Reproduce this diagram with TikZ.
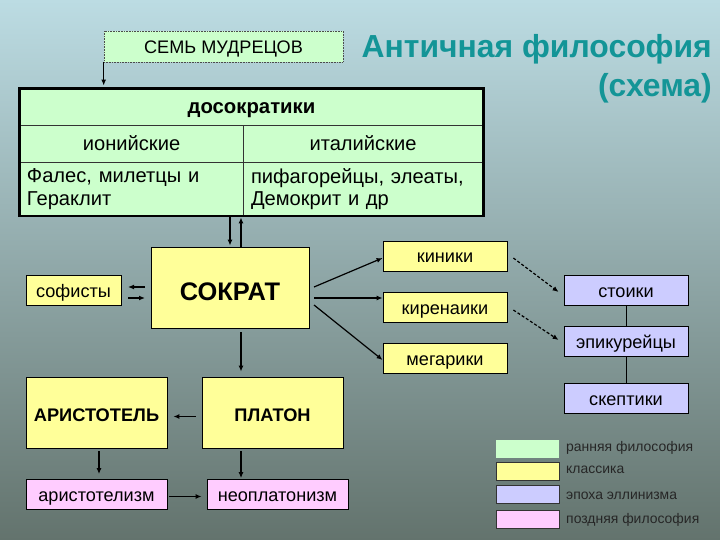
\documentclass[tikz,border=0pt]{standalone}
\usepackage{fontspec}
\setmainfont{Liberation Sans}
\usetikzlibrary{arrows.meta,calc}
\definecolor{early}{HTML}{CCFFCC}
\definecolor{classic}{HTML}{FFFF99}
\definecolor{hell}{HTML}{CCCCFF}
\definecolor{late}{HTML}{FFCCFF}
\definecolor{titlecol}{HTML}{139597}
\definecolor{bgtop}{HTML}{BCDCE3}
\definecolor{bgmid}{HTML}{8EA9AB}
\definecolor{bgbot}{HTML}{63736D}
\tikzset{
  box/.style={draw=black, line width=0.8bp, inner sep=0pt, rectangle,
    font=\fontsize{18.2}{21}\selectfont, text=black, text height=14bp, text depth=0bp},
  bigbox/.style={draw=black, line width=0.8bp, inner sep=0pt, rectangle, fill=classic,
    font=\bfseries\fontsize{18.3}{21}\selectfont, text=black, text height=18bp, text depth=0bp},
  cell/.style={draw=black!80, line width=0.8bp, inner sep=0pt, rectangle, fill=early,
    font=\fontsize{20.2}{22.5}\selectfont},
  arr/.style={line width=1.2bp, -{Latex[length=6bp,width=5bp]}},
  darr/.style={line width=1.2bp, dash pattern=on 3bp off 2bp, -{Latex[length=6bp,width=5bp]}},
  legsw/.style={draw=black!80, line width=0.8bp, minimum width=63bp, minimum height=18bp, inner sep=0pt},
  legtxt/.style={anchor=west, inner sep=0pt, font=\fontsize{14}{16}\selectfont, text=black!85}
}
\begin{document}
\begin{tikzpicture}[x=1bp,y=-1bp]
\useasboundingbox (0,0) rectangle (720,540);
\shade[top color=bgtop, middle color=bgmid, bottom color=bgbot] (0,0) rectangle (720,540);

% title
\node[anchor=east, inner sep=0pt, text=titlecol, font=\bfseries\fontsize{32}{36}\selectfont] (t1) at (712,49) {Античная философия};
\node[anchor=east, inner sep=0pt, text=titlecol, font=\bfseries\fontsize{32}{36}\selectfont] (t2) at (712,88) {(схема)};

% seven sages
\node[box, fill=early, draw=black!70, line width=0.6bp, densely dotted, minimum width=239bp, minimum height=31bp] (sem) at (223.5,46.5) {СЕМЬ МУДРЕЦОВ};

% table
\node[cell, minimum width=463bp, minimum height=36bp, font=\bfseries\fontsize{20.4}{23}\selectfont, text height=14bp, text depth=0bp] (dos) at (251.5,107) {досократики};
\node[cell, minimum width=223bp, minimum height=37bp, text height=15bp, text depth=0bp] (ion) at (131.5,143.5) {ионийские};
\node[cell, minimum width=240bp, minimum height=37bp, text height=15bp, text depth=0bp] (ital) at (363,143.5) {италийские};
\node[cell, minimum width=223bp, minimum height=54bp, text width=209bp, inner xsep=7bp, align=left] (fales) at (131.5,189) {Фалес, милетцы и\\Гераклит};
\node[cell, minimum width=240bp, minimum height=54bp, text width=224bp, inner xsep=8bp, align=left] (pif) at (363,189) {пифагорейцы, элеаты,\\Демокрит и др};
\draw[line width=2.2bp] (dos.north west) rectangle (pif.south east);

\draw[arr] (sem.south west) -- ([yshift=3bp]sem.south west |- dos.north);

% Socrates
\node[bigbox, minimum width=158bp, minimum height=81bp, font=\bfseries\fontsize{25.5}{28}\selectfont, text height=26bp] (sokrat) at (230,287.5) {СОКРАТ};
\node[box, fill=classic, minimum width=95bp, minimum height=30bp] (sof) at (73.5,290) {софисты};

\draw[arr] (fales.south -| sokrat.north) -- ([yshift=1bp]sokrat.north);
\draw[arr] ([xshift=11bp]sokrat.north) -- ([xshift=11bp,yshift=-1bp]sokrat.north |- fales.south);

\coordinate (sA) at (145,287);
\coordinate (sB) at (128,287);
\coordinate (sC) at (128,298);
\coordinate (sD) at (145,298);
\draw[arr] (sA) -- (sB);
\draw[arr] (sC) -- (sD);

% schools
\node[box, fill=classic, minimum width=124bp, minimum height=30bp] (kin) at (445,256) {киники};
\node[box, fill=classic, minimum width=124bp, minimum height=30bp] (kir) at (445,307) {киренаики};
\node[box, fill=classic, minimum width=124bp, minimum height=30bp] (meg) at (445,358) {мегарики};

\draw[arr] (314,287) -- (kin.west |- 0,258);
\draw[arr] (314,298) -- (kir.west |- 0,298);
\draw[arr] (314,305) -- (meg.west |- 0,360);

% hellenism
\node[box, fill=hell, minimum width=124bp, minimum height=30bp] (sto) at (626,290) {стоики};
\node[box, fill=hell, minimum width=124bp, minimum height=30bp] (epi) at (626,341) {эпикурейцы};
\node[box, fill=hell, minimum width=124bp, minimum height=30bp] (ske) at (626,398) {скептики};
\draw[line width=0.8bp] (sto.south) -- (epi.north);
\draw[line width=0.8bp] (epi.south) -- (ske.north);

\draw[darr] ([xshift=6bp,yshift=-2bp]kin.east) -- ([xshift=-5bp,yshift=-2bp]sto.west);
\draw[darr] ([xshift=6bp,yshift=-3bp]kir.east) -- ([xshift=-5bp,yshift=1bp]epi.west);

% Plato, Aristotle
\node[bigbox, minimum width=141bp, minimum height=71bp] (ari) at (96.5,412.5) {АРИСТОТЕЛЬ};
\node[bigbox, minimum width=141bp, minimum height=71bp] (pla) at (272.5,412.5) {ПЛАТОН};
\node[box, fill=late, minimum width=141bp, minimum height=30bp] (arism) at (96.5,494.5) {аристотелизм};
\node[box, fill=late, minimum width=141bp, minimum height=30bp] (neo) at (277.5,494.5) {неоплатонизм};

\draw[arr] ([xshift=11bp,yshift=-4bp]sokrat.south) -- ([xshift=11bp,yshift=5bp]sokrat.south |- pla.north);
\draw[arr] ([xshift=-6bp,yshift=-4bp]pla.west) -- ([xshift=6bp,yshift=-4bp]ari.west -| ari.east);
\draw[arr] ([xshift=2.5bp,yshift=-3bp]ari.south) -- ([xshift=2.5bp,yshift=5bp]ari.south |- arism.north);
\draw[arr] ([yshift=-3bp]pla.south -| 241,0) -- ([yshift=1bp]neo.north -| 241,0);
\draw[arr] ([xshift=2bp,yshift=-2bp]arism.east) -- ([xshift=-5bp,yshift=-2bp]neo.west);

% legend
\node[legsw, fill=early, draw=none] (l1) at (527.5,448.5) {};
\node[legsw, fill=classic] (l2) at (527.5,471.5) {};
\node[legsw, fill=hell] (l3) at (527.5,494) {};
\node[legsw, fill=late] (l4) at (527.5,519) {};
\node[legtxt] (lt1) at (566,448) {ранняя философия};
\node[legtxt] (lt2) at (566,470) {классика};
\node[legtxt] (lt3) at (566,496) {эпоха эллинизма};
\node[legtxt] (lt4) at (566,520) {поздняя философия};
\end{tikzpicture}
\end{document}
